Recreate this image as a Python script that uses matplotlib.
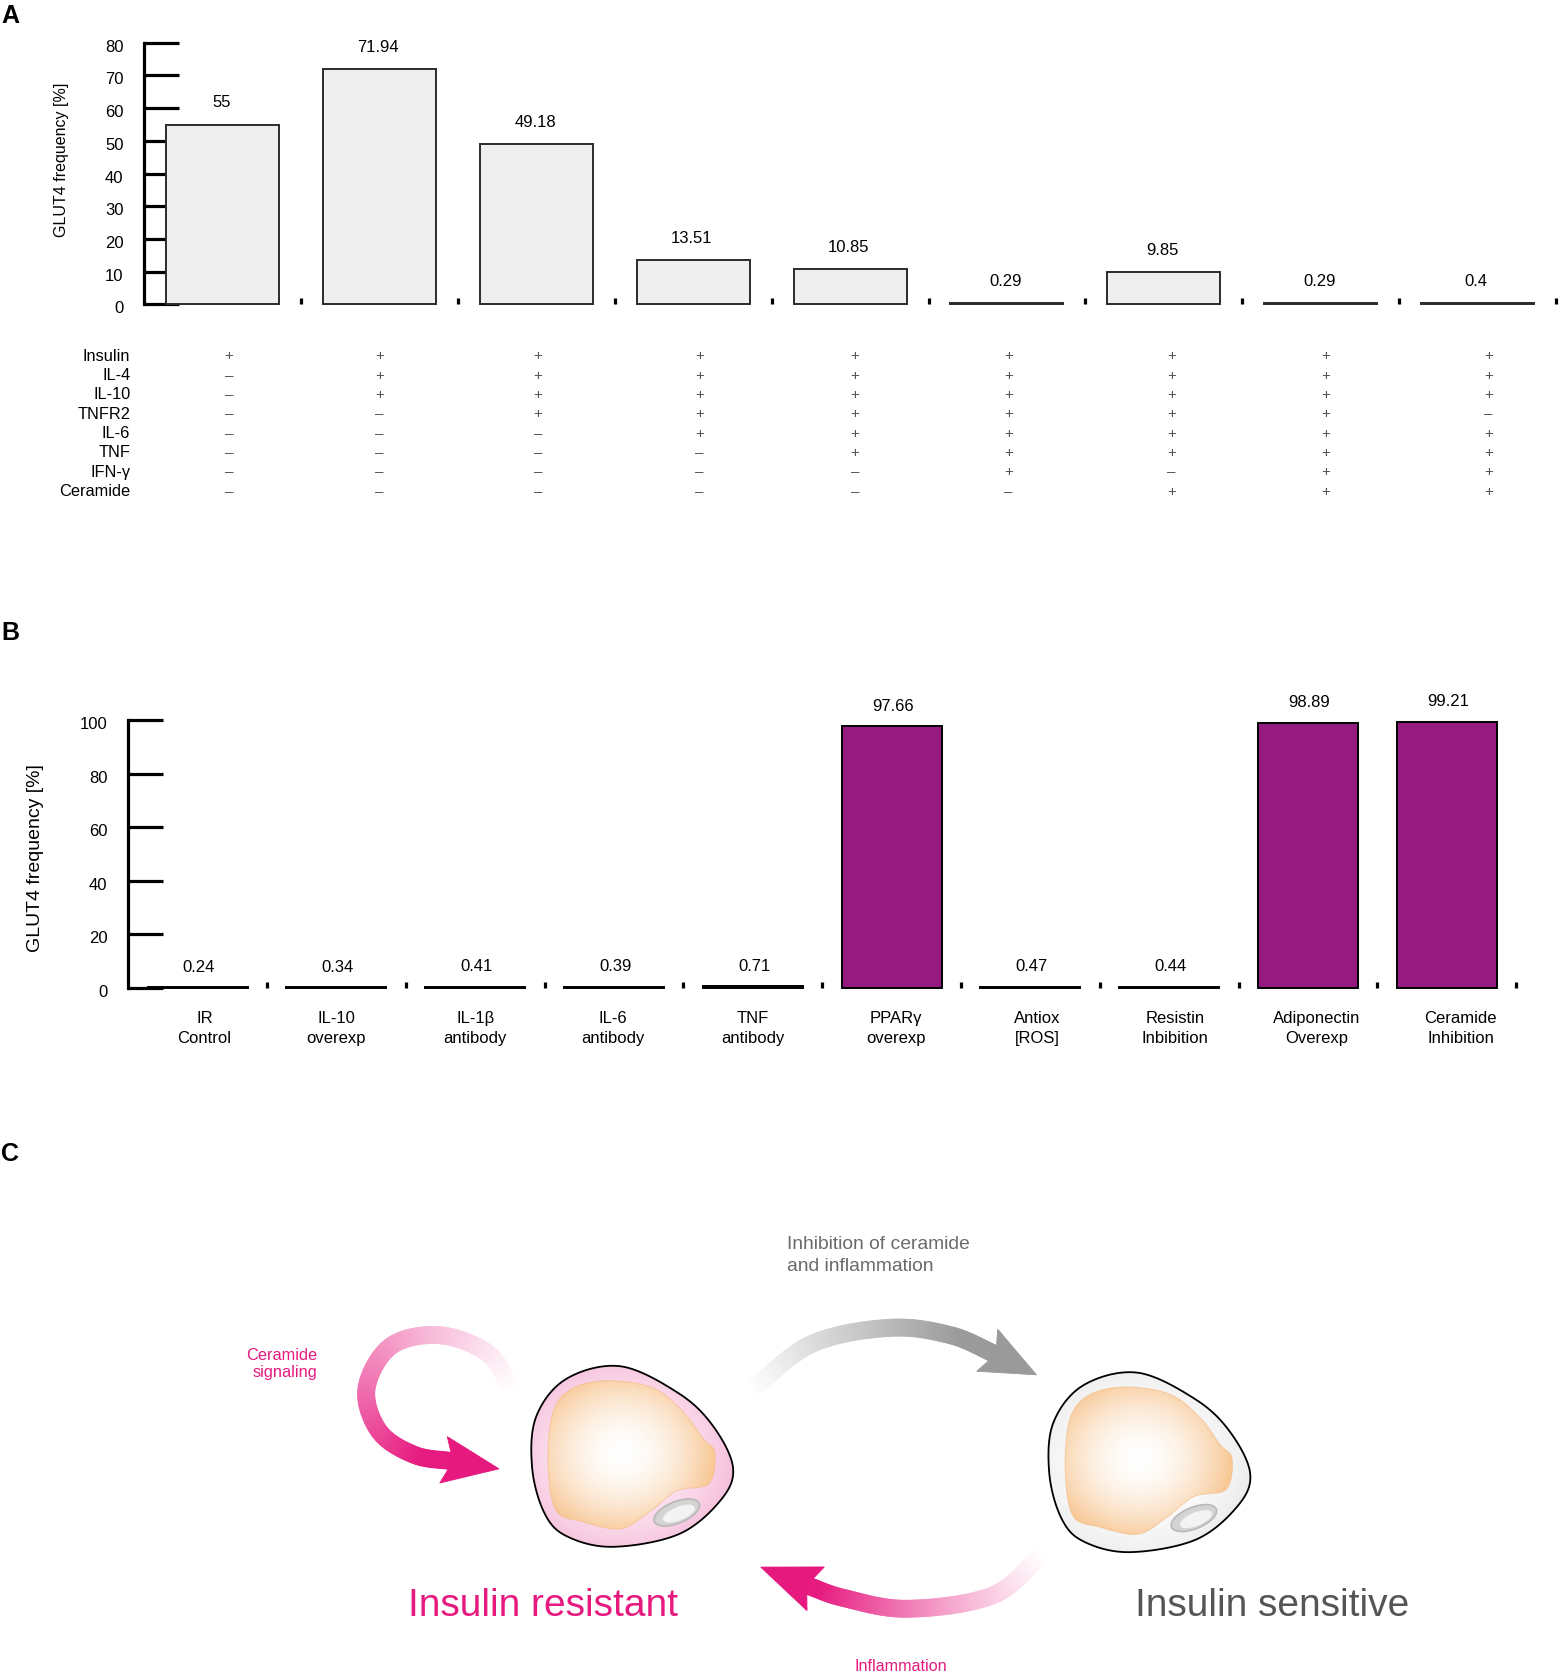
import numpy as np
import matplotlib
matplotlib.use('Agg')
import matplotlib.pyplot as plt
from matplotlib.patches import Polygon, Ellipse
from matplotlib.colors import to_rgb
from matplotlib.transforms import blended_transform_factory, ScaledTranslation

# ---- data -------------------------------------------------------------
a_values = [55, 71.94, 49.18, 13.51, 10.85, 0.29, 9.85, 0.29, 0.4]
a_rows = ['Insulin', 'IL-4', 'IL-10', 'TNFR2', 'IL-6', 'TNF', 'IFN-γ', 'Ceramide']
a_signs = ['+++++++++',
           '-++++++++',
           '-++++++++',
           '--++++++-',
           '---++++++',
           '----+++++',
           '-----+-++',
           '------+++']
a_yticks = [0, 10, 20, 30, 40, 50, 60, 70, 80]

b_labels = ['IR\nControl', 'IL-10\noverexp', 'IL-1β\nantibody', 'IL-6\nantibody',
            'TNF\nantibody', 'PPARγ\noverexp', 'Antiox\n[ROS]', 'Resistin\nInbibition',
            'Adiponectin\nOverexp', 'Ceramide\nInhibition']
b_values = [0.24, 0.34, 0.41, 0.39, 0.71, 97.66, 0.47, 0.44, 98.89, 99.21]
b_yticks = [0, 20, 40, 60, 80, 100]

ylabel = 'GLUT4 frequency [%]'
MAGENTA = '#e6197f'
PURPLE = '#951b81'
FONT = 'Liberation Sans'

# reference is drawn in a 1460 x 1568 grid
W, H = 1460.0, 1568.0

fig = plt.figure(figsize=(15.6, 16.75), dpi=100)
ov = fig.add_axes([0, 0, 1, 1])
ov.set_xlim(0, W)
ov.set_ylim(H, 0)
ov.set_autoscale_on(False)
ov.axis('off')


def fax(x0, y_top, width, y_bot):
    return fig.add_axes([x0 / W, 1 - y_bot / H, width / W, (y_bot - y_top) / H])


def style_bar_axes(ax, n, yticks):
    for s in ['top', 'right', 'bottom']:
        ax.spines[s].set_visible(False)
    ax.spines['left'].set_linewidth(2.3)
    ax.set_facecolor('none')
    ax.set_axisbelow(True)
    ax.set_yticks(yticks)
    ax.tick_params(axis='y', direction='in', length=25, width=2.3, pad=15, labelsize=12)
    shift = ScaledTranslation(0, -3 / 100, fig.dpi_scale_trans)
    for tk in ax.yaxis.get_major_ticks():
        tk.label1.set_family(FONT)
        tk.label1.set_verticalalignment('center_baseline')
        tk.label1.set_transform(tk.label1.get_transform() + shift)
    ax.set_xticks(np.arange(n) + 0.5)
    ax.tick_params(axis='x', direction='in', length=4.5, width=2.3, labelbottom=False)


# ---- panel A ----------------------------------------------------------
axA = fax(135, 40, 9.02 * 146.8, 285)
xa = np.arange(len(a_values))
axA.bar(xa, a_values, width=0.72, color='#efefef', edgecolor='#2b2b2b',
        linewidth=1.4, clip_on=False)
axA.set_xlim(-0.5, 8.52)
axA.set_ylim(0, 80)
style_bar_axes(axA, len(a_values), a_yticks)
for x, v in zip(xa, a_values):
    axA.annotate(f'{v:g}', (x, v), xytext=(-1, 15.5), textcoords='offset points',
                 ha='center', va='center', fontsize=12, family=FONT, annotation_clip=False)

ov.text(58, 150, ylabel, rotation=90, ha='center', va='center', fontsize=11.5, family=FONT)

# sign table
trA = blended_transform_factory(axA.transData, ov.transData)
sym_shift = [0.04, 0.0, 0.01, 0.04, 0.03, 0.01, 0.05, 0.03, 0.07]
for r, (name, signs) in enumerate(zip(a_rows, a_signs)):
    yy = 333.5 + 18.1 * r
    ov.text(122, yy, name, ha='right', va='center', fontsize=11.8, family=FONT)
    for c, s in enumerate(signs):
        ov.text(xa[c] + sym_shift[c], yy, '+' if s == '+' else '–', transform=trA,
                ha='center', va='center', fontsize=11, family=FONT, color='#555555')

# ---- panel B ----------------------------------------------------------
axB = fax(120, 674, 10.1 * 129.9, 925)
xb = np.arange(len(b_values))
axB.bar(xb, b_values, width=0.72, color=PURPLE, edgecolor='black',
        linewidth=1.4, clip_on=False)
axB.set_xlim(-0.5, 9.6)
axB.set_ylim(0, 100)
style_bar_axes(axB, len(b_values), b_yticks)
for x, v in zip(xb, b_values):
    axB.annotate(f'{v:g}', (x, v), xytext=(1, 14.5), textcoords='offset points',
                 ha='center', va='center', fontsize=12, family=FONT, annotation_clip=False)
trB = blended_transform_factory(axB.transData, ov.transData)
lab_shift = [0.05, 0.0, 0.0, -0.01, 0.0, 0.03, 0.05, 0.04, 0.06, 0.1]
for x, lab, sh in zip(xb, b_labels, lab_shift):
    ov.text(x + sh, 962.5, lab, transform=trB, ha='center', va='center',
            fontsize=12, family=FONT, linespacing=1.4)

ov.text(33, 803, ylabel, rotation=90, ha='center', va='center', fontsize=14, family=FONT)

# panel letters
for letter, yy in [('A', 15), ('B', 593), ('C', 1080)]:
    ov.text(1, yy, letter, ha='left', va='center', fontsize=18, fontweight='bold', family=FONT)


# ---- panel C (schematic) ---------------------------------------------
def catmull(pts, n_per=24, closed=False):
    P = np.asarray(pts, float)
    if closed:
        P = np.vstack([P[-1], P, P[0], P[1]])
    else:
        P = np.vstack([2 * P[0] - P[1], P, 2 * P[-1] - P[-2]])
    out = []
    t = np.linspace(0, 1, n_per, endpoint=False)[:, None]
    for i in range(1, len(P) - 2):
        p0, p1, p2, p3 = P[i - 1], P[i], P[i + 1], P[i + 2]
        out.append(0.5 * (2 * p1 + (-p0 + p2) * t + (2 * p0 - 5 * p1 + 4 * p2 - p3) * t ** 2
                          + (-p0 + 3 * p1 - 3 * p2 + p3) * t ** 3))
    if not closed:
        out.append(P[-2][None])
    return np.vstack(out)


outer_rel = [(0.17, 0.07), (0.44, 0.0), (0.73, 0.15), (0.90, 0.33), (1.0, 0.56), (0.94, 0.74),
             (0.73, 0.93), (0.40, 1.0), (0.17, 0.94), (0.06, 0.81), (0.0, 0.56), (0.02, 0.28)]
inner_rel = [(0.37, 0.08), (0.60, 0.12), (0.75, 0.25), (0.85, 0.40), (0.91, 0.48), (0.88, 0.65),
             (0.72, 0.69), (0.58, 0.81), (0.44, 0.90), (0.25, 0.86), (0.12, 0.80), (0.08, 0.56),
             (0.10, 0.27), (0.19, 0.13)]


def grad_image(x0, y0, x1, y1, cx, cy, c_in, c_out, p=1.5, rx=0.55, ry=0.55):
    gx = np.linspace(0, 1, 200)
    gy = np.linspace(0, 1, 200)
    X, Y = np.meshgrid(gx, gy)
    d = np.clip(np.sqrt(((X - cx) / rx) ** 2 + ((Y - cy) / ry) ** 2), 0, 1) ** p
    ci = np.array(to_rgb(c_in))
    co = np.array(to_rgb(c_out))
    img = ci[None, None, :] * (1 - d[..., None]) + co[None, None, :] * d[..., None]
    return ov.imshow(img, extent=(x0, x1, y1, y0), aspect='auto', interpolation='bilinear',
                     zorder=2)


def draw_cell(x0, y0, x1, y1, ring_in, ring_out):
    w, h = x1 - x0, y1 - y0
    outer = catmull([(x0 + a * w, y0 + b * h) for a, b in outer_rel], closed=True)
    inner = catmull([(x0 + a * w, y0 + b * h) for a, b in inner_rel], closed=True)
    po = Polygon(outer, closed=True, transform=ov.transData)
    im = grad_image(x0, y0, x1, y1, 0.45, 0.5, ring_in, ring_out, p=2.2, rx=0.56, ry=0.56)
    im.set_clip_path(po)
    pi = Polygon(inner, closed=True, transform=ov.transData)
    im2 = grad_image(x0, y0, x1, y1, 0.45, 0.48, '#ffffff', '#f8c896', p=1.8, rx=0.46, ry=0.46)
    im2.set_clip_path(pi)
    im2.set_zorder(3)
    ov.add_patch(Polygon(inner, closed=True, fc='none', ec='#f4bc86', lw=0.8, alpha=0.6, zorder=4))
    ov.add_patch(Polygon(outer, closed=True, fc='none', ec='black', lw=1.3, zorder=6))
    ex, ey = x0 + 0.72 * w, y0 + 0.81 * h
    ov.add_patch(Ellipse((ex, ey), 0.24 * w, 0.12 * h, angle=-22, fc='#d4d4d4', ec='#b8b8b8',
                         lw=1.2, zorder=5))
    ov.add_patch(Ellipse((ex + 2, ey + 1), 0.17 * w, 0.075 * h, angle=-22, fc='#f3f3f3',
                         ec='none', zorder=5))


draw_cell(498, 1279, 686, 1448, '#fdebf4', '#f6bfdb')
draw_cell(982, 1285, 1170, 1453, '#ffffff', '#ececec')


def grad_arrow(pts, tip, color, width=16, head_w=44, barb_back=9, fade_end=0.6, power=1.0):
    path = catmull(pts, 30)
    L = np.hypot(*np.diff(path, axis=0).T)
    s = np.concatenate([[0], np.cumsum(L)])
    t = s / s[-1]
    d = np.gradient(path, axis=0)
    d /= np.hypot(d[:, 0], d[:, 1])[:, None]
    nrm = np.stack([-d[:, 1], d[:, 0]], 1)
    left = path + nrm * width / 2
    right = path - nrm * width / 2
    c = np.array(to_rgb(color))
    for i in range(len(path) - 1):
        a = min(1.0, t[i] / fade_end) ** power
        col = 1 - a * (1 - c)
        ov.add_patch(Polygon([left[i], left[i + 1], right[i + 1], right[i]], closed=True,
                             fc=col, ec=col, lw=0.6, zorder=2))
    end = path[-1]
    tip = np.asarray(tip, float)
    dv = (tip - end) / np.hypot(*(tip - end))
    nv = np.array([-dv[1], dv[0]])
    b1 = end + nv * head_w / 2 - dv * barb_back
    b2 = end - nv * head_w / 2 - dv * barb_back
    ov.add_patch(Polygon([tip, b1, end, b2], closed=True, fc=c, ec=c, lw=0.6, zorder=2))


grad_arrow([(480, 1305), (458, 1268), (412, 1250), (366, 1260), (343, 1300), (355, 1340),
            (388, 1362), (424, 1368)], (467, 1375), MAGENTA, fade_end=0.9, power=1.2)
grad_arrow([(702, 1302), (760, 1258), (833, 1243), (890, 1250), (932, 1268)], (970, 1287),
           '#9a9a9a', fade_end=0.85)
grad_arrow([(978, 1452), (930, 1493), (850, 1506), (790, 1496), (755, 1484)], (712, 1467),
           MAGENTA, fade_end=0.95, power=1.2)

ov.text(737, 1175, 'Inhibition of ceramide\nand inflammation', ha='left', va='center',
        fontsize=13.9, family=FONT, color='#6b6b6b', linespacing=1.4)
ov.text(297, 1277, 'Ceramide\nsignaling', ha='right', va='center', fontsize=11.8,
        family=FONT, color=MAGENTA, linespacing=1.2)
ov.text(508, 1503, 'Insulin resistant', ha='center', va='center', fontsize=28,
        family=FONT, color=MAGENTA)
ov.text(1191, 1503, 'Insulin sensitive', ha='center', va='center', fontsize=28,
        family=FONT, color='#555555')
ov.text(843, 1560, 'Inflammation', ha='center', va='center', fontsize=11.6,
        family=FONT, color=MAGENTA)

fig.savefig('out.png', dpi=100, facecolor='white')
